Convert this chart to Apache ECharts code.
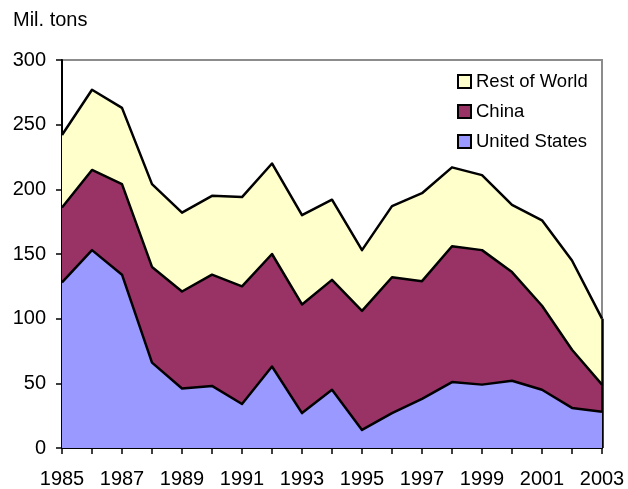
<!DOCTYPE html>
<html>
<head>
<meta charset="utf-8">
<script src="https://cdn.jsdelivr.net/npm/echarts@6/dist/echarts.min.js"></script>
<style>html,body{margin:0;padding:0;background:#fff}#c{width:628px;height:489px}</style>
</head>
<body>
<div id="c"></div>
<script>
const years = ['1985','1986','1987','1988','1989','1990','1991','1992','1993','1994','1995','1996','1997','1998','1999','2000','2001','2002','2003'];
const unitedStates = [128,153,134,66,46,48,34,63,27,45,14,27,38,51,49,52,45,31,28];
const china = [58,62,70,74,75,86,91,87,84,85,92,105,91,105,104,84,65,45,21];
const restOfWorld = [56,62,59,64,61,61,69,70,69,62,47,55,68,61,58,52,66,69,51];
const yTicks = {min:0, max:300, interval:50};
const unitLabel = 'Mil. tons';

const FONT = '"Liberation Sans", Arial, sans-serif';
const last = years.length - 1;
const topTotal = unitedStates[last] + china[last] + restOfWorld[last];

const chart = echarts.init(document.getElementById('c'), null, {renderer:'canvas'});
function mk(name, data, color, z, extra) {
  return Object.assign({
    name: name, type: 'line', stack: 'total', data: data,
    symbol: 'none', z: z,
    lineStyle: {color: '#000', width: 2.5, join: 'round'},
    itemStyle: {color: color, borderColor: '#000', borderWidth: 1.5},
    areaStyle: {color: color, opacity: 1},
    emphasis: {disabled: true}
  }, extra || {});
}
chart.setOption({
  animation: false,
  backgroundColor: '#fff',
  graphic: [{type:'text', left: 13, top: 10, style:{text: unitLabel, font: '20px ' + FONT, fill:'#000'}}],
  grid: {left: 62, right: 26, top: 60, bottom: 39, show: true, borderColor: '#8c8c8c', borderWidth: 2, backgroundColor: 'transparent'},
  legend: {
    orient: 'vertical', left: 452, top: 67, itemWidth: 13, itemHeight: 13, itemGap: 11,
    icon: 'rect',
    data: ['Rest of World','China','United States'],
    textStyle: {fontFamily: FONT, fontSize: 18.5, color: '#000', lineHeight: 18},
    selectedMode: false
  },
  xAxis: {
    type: 'category', data: years, boundaryGap: false,
    axisLine: {lineStyle: {color: '#000', width: 2}},
    axisTick: {show: true, interval: 0, length: 6, lineStyle: {color: '#000', width: 1.5}},
    axisLabel: {interval: 1, margin: 21, fontFamily: FONT, fontSize: 20, color: '#000'},
    splitLine: {show: false}
  },
  yAxis: {
    type: 'value', min: yTicks.min, max: yTicks.max, interval: yTicks.interval,
    axisLine: {show: true, lineStyle: {color: '#000', width: 2}},
    axisTick: {show: true, length: 6, lineStyle: {color: '#000', width: 1.5}},
    axisLabel: {margin: 16, fontFamily: FONT, fontSize: 20, color: '#000'},
    splitLine: {show: false}
  },
  series: [
    mk('United States', unitedStates, '#9999ff', 5),
    mk('China', china, '#993366', 4),
    mk('Rest of World', restOfWorld, '#ffffcc', 3, {
      markLine: {
        silent: true, symbol: 'none', label: {show: false},
        lineStyle: {color: '#000', width: 2.5, type: 'solid'},
        data: [[{coord: [years[last], 0]}, {coord: [years[last], topTotal]}]]
      }
    })
  ]
});
</script>
</body>
</html>
